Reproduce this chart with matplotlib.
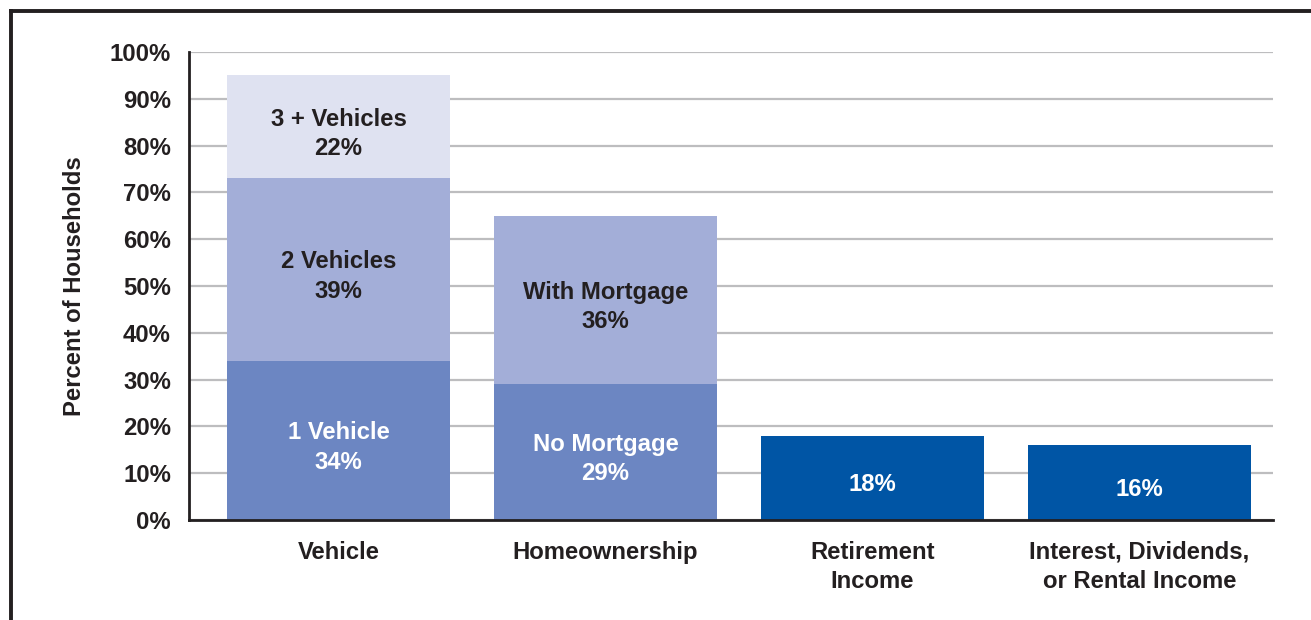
import matplotlib
matplotlib.use("Agg")
import matplotlib.pyplot as plt
from matplotlib.lines import Line2D
import numpy as np

plt.rcParams['font.family'] = ['Liberation Sans', 'DejaVu Sans']
plt.rcParams['font.weight'] = 'bold'

categories = ["Vehicle", "Homeownership", "Retirement\nIncome",
              "Interest, Dividends,\nor Rental Income"]

# Stacked segments, bottom to top, per category
vehicle_labels = ["1 Vehicle", "2 Vehicles", "3 + Vehicles"]
vehicle_values = [34, 39, 22]
home_labels = ["No Mortgage", "With Mortgage"]
home_values = [29, 36]
retirement_value = 18
interest_value = 16

y_ticks = [0, 10, 20, 30, 40, 50, 60, 70, 80, 90, 100]
y_label = "Percent of Households"

c_level1 = "#6C86C2"
c_level2 = "#A3AED8"
c_level3 = "#DFE2F1"
c_solid = "#0055A5"
c_text = "#231F20"
c_grid = "#BDBDBF"

W, H, DPI = 1311, 620, 100
fig = plt.figure(figsize=(W / DPI, H / DPI), dpi=DPI)
ax = fig.add_axes([189 / W, 1 - 520 / H, (1273 - 189) / W, (520 - 52) / H])

x = np.arange(len(categories))
bw = 0.835
fs = 17.2
ls = 1.36


def seg_label(xc, bottom, val, name, color):
    txt = f"{name}\n{val}%" if name else f"{val}%"
    ax.text(xc, bottom + val / 2 - 1.5, txt, ha="center", va="center",
            fontsize=fs, fontweight="bold", color=color, zorder=4,
            linespacing=ls)


# Vehicle stack
seg_colors = [c_level1, c_level2, c_level3]
txt_colors = ["white", c_text, c_text]
bottom = 0
for name, val, col, tc in zip(vehicle_labels, vehicle_values, seg_colors, txt_colors):
    ax.bar(x[0], val, bw, bottom=bottom, color=col, zorder=3, linewidth=0)
    seg_label(x[0], bottom, val, name, tc)
    bottom += val

# Homeownership stack
bottom = 0
for name, val, col, tc in zip(home_labels, home_values, seg_colors[:2], txt_colors[:2]):
    ax.bar(x[1], val, bw, bottom=bottom, color=col, zorder=3, linewidth=0)
    seg_label(x[1], bottom, val, name, tc)
    bottom += val

# Single-value bars
for xi, val in ((x[2], retirement_value), (x[3], interest_value)):
    ax.bar(xi, val, bw, color=c_solid, zorder=3, linewidth=0)
    seg_label(xi, 0, val, None, "white")

ax.set_xlim(-0.56, 3.5)
ax.set_ylim(0, 100)
ax.set_yticks(y_ticks)
ax.set_yticklabels([f"{t}%" for t in y_ticks], fontsize=fs, fontweight="bold",
                   color=c_text)
ax.set_xticks(x)
ax.set_xticklabels(categories, fontsize=fs, fontweight="bold", color=c_text,
                   linespacing=ls, va="top")
ax.tick_params(axis="y", length=0, pad=13)
ax.tick_params(axis="x", length=0, pad=15)
ax.yaxis.grid(True, color=c_grid, linewidth=1.6, zorder=1)
ax.set_axisbelow(True)

for s in ("top", "right"):
    ax.spines[s].set_visible(False)
for s in ("left", "bottom"):
    ax.spines[s].set_color(c_text)
    ax.spines[s].set_linewidth(2)
    ax.spines[s].set_zorder(5)

ax.set_ylabel(y_label, fontsize=fs, fontweight="bold", color=c_text)
ax.yaxis.set_label_coords(-103 / (1273 - 189), 0.5)

# Outer frame (top and left edges)
fx0 = 10.5 / W
fy0 = 1 - 11 / H
fig.add_artist(Line2D([fx0, 1], [fy0, fy0], transform=fig.transFigure,
                      color=c_text, linewidth=2.8))
fig.add_artist(Line2D([fx0, fx0], [0, fy0], transform=fig.transFigure,
                      color=c_text, linewidth=2.8))

fig.savefig("out.png", dpi=DPI, facecolor="white")
